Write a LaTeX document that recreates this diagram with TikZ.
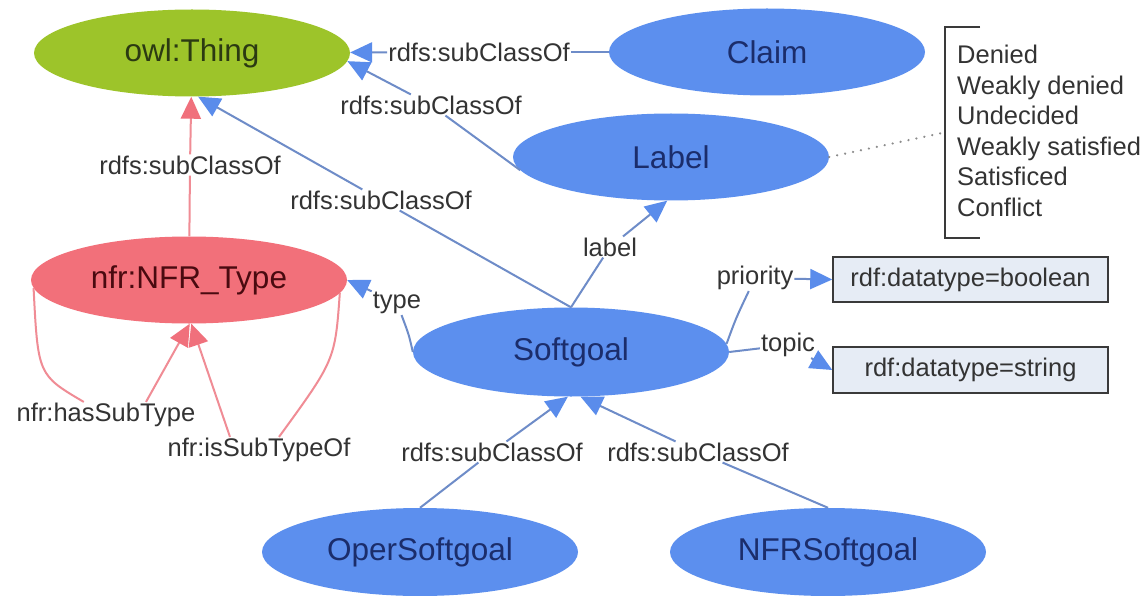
\documentclass[tikz,border=0pt]{standalone}
\usepackage{fontspec}
\setmainfont{Liberation Sans}
\usetikzlibrary{shapes.geometric,arrows.meta}
\definecolor{thingFill}{HTML}{9DC42A}
\definecolor{thingText}{HTML}{2B3A12}
\definecolor{nfrFill}{HTML}{F2707A}
\definecolor{nfrText}{HTML}{4A0A10}
\definecolor{blueFill}{HTML}{5C8FEE}
\definecolor{blueText}{HTML}{1B2D6B}
\definecolor{blueLine}{HTML}{6E8CC8}
\definecolor{blueArrow}{HTML}{5A8CEB}
\definecolor{pinkLine}{HTML}{F08C95}
\definecolor{pinkArrow}{HTML}{F0707C}
\definecolor{lblText}{HTML}{333333}
\definecolor{boxFill}{HTML}{E6ECF5}
\definecolor{boxLine}{HTML}{3A3A3A}
\newcommand{\ndfont}{\fontsize{31.5}{36}\selectfont}
\newcommand{\lbfont}{\fontsize{25.5}{30.5}\selectfont}
\begin{document}
\begin{tikzpicture}[x=1pt,y=-1pt,
  ell/.style={ellipse, minimum width=316pt, minimum height=87pt, inner sep=0pt, font=\ndfont},
  blueell/.style={ell, fill=blueFill, text=blueText},
  lbl/.style={inner sep=1pt, font=\lbfont, text=lblText},
  bl/.style={draw=blueLine, line width=2pt},
  blarr/.style={bl, -{Triangle[length=22pt,width=20pt,color=blueArrow]}},
  pk/.style={draw=pinkLine, line width=2pt},
  pkarr/.style={pk, -{Triangle[length=22pt,width=20pt,color=pinkArrow]}},
  dtbox/.style={draw=boxLine, line width=1.5pt, fill=boxFill, minimum width=275pt, minimum height=45pt, inner sep=0pt, font=\lbfont, text=lblText},
  brk/.style={draw=boxLine, line width=2pt}
]
\useasboundingbox (0,0) rectangle (1145,596);
\fill[white] (0,0) rectangle (1145,596);

% nodes
\node[ell, fill=thingFill, text=thingText] (thing) at (192,53) {owl:Thing};
\node[blueell] (claim) at (767,52) {Claim};
\node[blueell] (lab) at (671,157) {Label};
\node[ell, fill=nfrFill, text=nfrText] (nfrtype) at (189,280) {nfr:NFR\_Type};
\node[blueell, minimum height=89pt] (soft) at (571,352) {Softgoal};
\node[blueell, minimum height=88pt] (oper) at (420,552) {OperSoftgoal};
\node[blueell, minimum height=88pt] (nfrsoft) at (828,552) {NFRSoftgoal};
\node[dtbox] (box1) at (970.5,279.5) {rdf:datatype=boolean};
\node[dtbox, minimum height=46pt] (box2) at (970.5,370) {rdf:datatype=string};

% value list with bracket
\node[lbl, anchor=west, align=left, inner sep=0pt] (vals) at (957,131)
  {Denied\\Weakly denied\\Undecided\\Weakly satisfied\\Satisficed\\Conflict};
\coordinate (brkA) at (980,27);
\coordinate (brkB) at (945,27);
\coordinate (brkC) at (945,238);
\coordinate (brkD) at (980,238);
\draw[brk] (brkA) -- (brkB) -- (brkC) -- (brkD);
\coordinate (brkMid) at (942,133);
\draw[draw=gray!90, line width=2.4pt, line cap=round, dash pattern=on 0.1pt off 8pt] (lab.east) -- (brkMid);

% edge labels
\node[lbl] (l1) at (479,52) {rdfs:subClassOf};
\node[lbl] (l2) at (431,105) {rdfs:subClassOf};
\node[lbl] (l3) at (381,200) {rdfs:subClassOf};
\node[lbl] (l4) at (190,165) {rdfs:subClassOf};
\node[lbl] (l5) at (610,247) {label};
\node[lbl] (l6) at (397,303) {type};
\node[lbl] (l7) at (755,278) {priority};
\node[lbl] (l8) at (788,345) {topic};
\node[lbl] (l9) at (492,452) {rdfs:subClassOf};
\node[lbl] (l10) at (698,452) {rdfs:subClassOf};
\node[lbl] (l11) at (106,415) {nfr:hasSubType};
\node[lbl] (l12) at (259,450) {nfr:isSubTypeOf};

% edges
\draw[bl] (claim) -- (l1);
\draw[blarr] (l1) -- (thing);
\draw[bl] (lab.185) -- (l2);
\draw[blarr] (l2) -- (thing.-3);
\draw[bl] (soft.north) -- (l3);
\draw[blarr] (l3) -- (thing.-82);
\draw[pk] (nfrtype) -- (l4);
\draw[pkarr] (l4) -- (thing.-91);
\draw[bl] (soft.north) -- (l5);
\draw[blarr] (l5) -- (lab.-95);
\draw[bl] (soft.west) .. controls (409,335) .. (l6);
\draw[blarr] (l6) -- (nfrtype.east);
\draw[bl] (soft.3) .. controls (736,318) .. (l7);
\draw[blarr] (l7) -- (box1.west);
\draw[bl] (soft.east) -- (l8);
\draw[blarr] (l8) -- (box2.west);
\draw[bl] (oper.north) -- (l9);
\draw[blarr] (l9) -- (soft.-94);
\draw[bl] (nfrsoft.north) -- (l10);
\draw[blarr] (l10) -- (soft.-78);
\draw[pk] (nfrtype.183) .. controls (38,375) .. (l11);
\draw[pkarr] ([xshift=40pt]l11.north) -- (nfrtype.-89);
\draw[pk] (nfrtype.-5) .. controls (335,360) .. ([xshift=20pt]l12.north);
\draw[pkarr] ([xshift=-29pt]l12.north) -- (nfrtype.-87);
\end{tikzpicture}
\end{document}
